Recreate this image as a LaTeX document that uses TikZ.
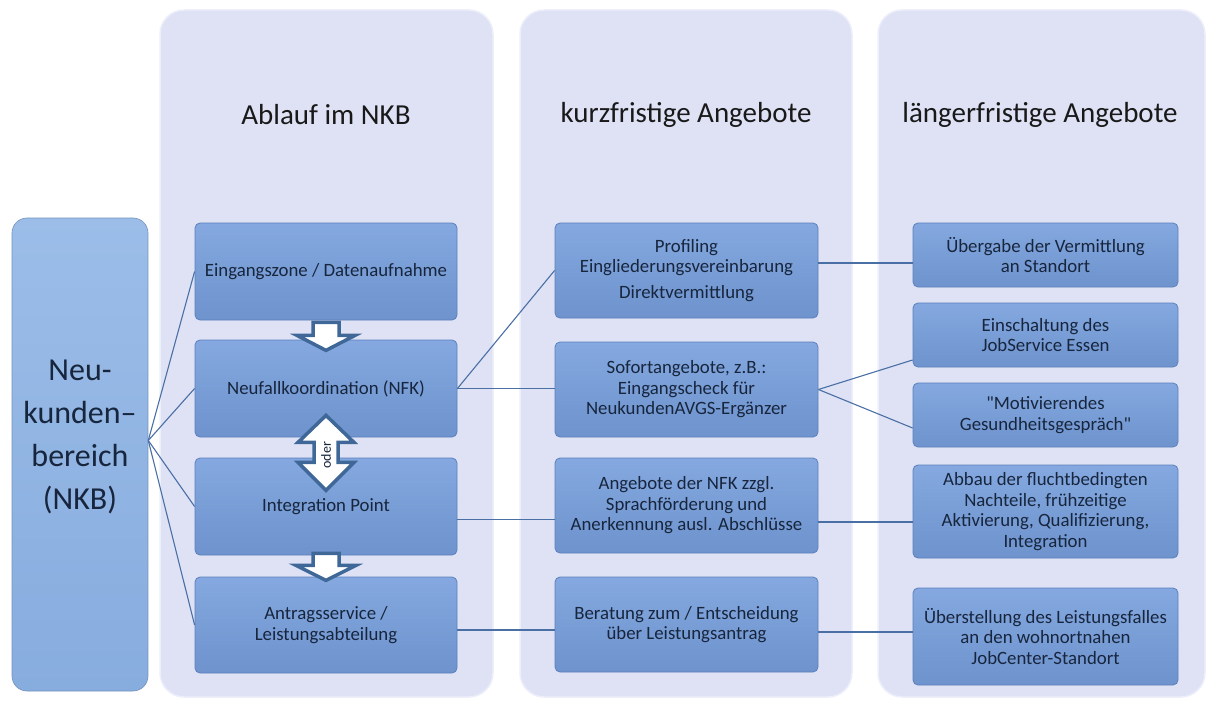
\documentclass[tikz,border=0pt]{standalone}
\usepackage{fontspec}
\setmainfont{Carlito}[Ligatures=TeXOff]
\usetikzlibrary{calc}
\definecolor{panelfill}{HTML}{DFE2F5}
\definecolor{paneledge}{HTML}{EDEFFA}
\definecolor{boxtop}{HTML}{84A8DF}
\definecolor{boxbot}{HTML}{6E93CD}
\definecolor{boxedge}{HTML}{5C80BC}
\definecolor{nkbtop}{HTML}{9BBDE8}
\definecolor{nkbbot}{HTML}{87ACDE}
\definecolor{txtdark}{HTML}{17253D}
\definecolor{linecol}{HTML}{4A6FA5}
\definecolor{arrowcol}{HTML}{3F6899}
\tikzset{
  panel/.style={draw=paneledge, line width=1.5pt, fill=panelfill, rounded corners=24pt},
  stepbox/.style={draw=boxedge, line width=0.8pt, top color=boxtop, bottom color=boxbot,
    rounded corners=5pt, align=center, text=txtdark, inner sep=2pt,
    font=\fontsize{18.8}{20.5}\selectfont},
  header/.style={font=\fontsize{29}{33}\selectfont, text=black!90},
  conn/.style={draw=linecol, line width=1.1pt},
  blockarrow/.style={draw=arrowcol, fill=white, line width=3.5pt, line join=miter},
}
\begin{document}
\begin{tikzpicture}[x=1pt,y=-1pt]
\useasboundingbox (0,0) rectangle (1210,706);
% panels
\node[panel, minimum width=333pt, minimum height=687pt] (p1) at (326.5,353.5) {};
\node[panel, minimum width=332pt, minimum height=687pt] (p2) at (686,353.5) {};
\node[panel, minimum width=327pt, minimum height=687pt] (p3) at (1041.5,353.5) {};
% headers
\node[header] (h1) at (326,115) {Ablauf im NKB};
\node[header] (h2) at (686,115) {kurzfristige Angebote};
\node[header] (h3) at (1040,115) {längerfristige Angebote};
% NKB
\node[draw=nkbbot!85!black, line width=0.6pt, top color=nkbtop, bottom color=nkbbot, rounded corners=15pt,
  minimum width=136pt, minimum height=473pt] (nkb) at (80,454.5) {};
\node[align=center, text=txtdark, font=\fontsize{32}{43}\selectfont] (nkbtext) at (80,437)
  {Neu-\\kunden–\\bereich\\(NKB)};
% column 1
\node[stepbox, minimum width=262pt, minimum height=97pt] (b11) at (326,271.5) {Eingangszone / Datenaufnahme};
\node[stepbox, minimum width=262pt, minimum height=97pt] (b12) at (326,388.5) {Neufallkoordination (NFK)};
\node[stepbox, minimum width=262pt, minimum height=97pt] (b13) at (326,506.5) {Integration Point};
\node[stepbox, minimum width=262pt, minimum height=96pt] (b14) at (326,625) {Antragsservice /\\Leistungsabteilung};
% column 2
\node[stepbox, minimum width=263pt, minimum height=95pt] (b21) at (686.5,270.5) {Profiling\\Eingliederungsvereinbarung\\[5pt]Direktvermittlung};
\node[stepbox, minimum width=263pt, minimum height=95pt] (b22) at (686.5,389.5) {Sofortangebote, z.B.:\\Eingangscheck für\\NeukundenAVGS-Ergänzer};
\node[stepbox, minimum width=263pt, minimum height=95pt] (b23) at (686.5,505.5) {Angebote der NFK zzgl.\\Sprachförderung und\\Anerkennung ausl. Abschlüsse};
\node[stepbox, minimum width=263pt, minimum height=95pt] (b24) at (686.5,624.5) {Beratung zum / Entscheidung\\über Leistungsantrag};
% column 3
\node[stepbox, minimum width=265pt, minimum height=64pt] (b31) at (1045.5,255) {Übergabe der Vermittlung\\an Standort};
\node[stepbox, minimum width=265pt, minimum height=64pt] (b32) at (1045.5,335) {Einschaltung des\\JobService Essen};
\node[stepbox, minimum width=265pt, minimum height=64pt] (b33) at (1045.5,415) {"Motivierendes\\Gesundheitsgespräch"};
\node[stepbox, minimum width=265pt, minimum height=93pt] (b34) at (1045.5,511.5) {Abbau der fluchtbedingten\\Nachteile, frühzeitige\\Aktivierung, Qualifizierung,\\Integration};
\node[stepbox, minimum width=265pt, minimum height=97pt] (b35) at (1045.5,636.5) {Überstellung des Leistungsfalles\\an den wohnortnahen\\JobCenter-Standort};
% connectors NKB -> column 1
\coordinate (nkbout) at ($(nkb.east)+(0,-14)$);
\draw[conn] (nkbout) -- (b11.west);
\draw[conn] (nkbout) -- (b12.west);
\draw[conn] (nkbout) -- (b13.west);
\draw[conn] (nkbout) -- (b14.west);
% column 1 -> column 2
\draw[conn] (b12.east) -- (b21.west);
\draw[conn] (b12.east) -- ($(b22.west)+(0,-1)$);
\draw[conn] ($(b13.east)+(0,13)$) -- ($(b23.west)+(0,14)$);
\draw[conn] ($(b14.east)+(0,5)$) -- ($(b24.west)+(0,5.5)$);
% column 2 -> column 3
\draw[conn] ($(b21.east)+(0,-7.5)$) -- ($(b31.west)+(0,8)$);
\draw[conn] (b22.east) -- ($(b32.west)+(0,25)$);
\draw[conn] (b22.east) -- ($(b33.west)+(0,13)$);
\draw[conn] ($(b23.east)+(0,16.5)$) -- ($(b34.west)+(0,10.5)$);
\draw[conn] ($(b24.east)+(0,7.5)$) -- ($(b35.west)+(0,-4.5)$);
% block arrows
\draw[blockarrow] ($(b11.south)+(-13,2)$) -- ++(26,0) -- ++(0,13) -- ++(16,0) -- ++(-29,15) -- ++(-29,-15) -- ++(16,0) -- cycle;
\draw[blockarrow] ($(b12.south)+(0,-22)$) -- ++(28,27) -- ++(-16,0) -- ++(0,20) -- ++(16,0) -- ++(-28,28) -- ++(-28,-28) -- ++(16,0) -- ++(0,-20) -- ++(-16,0) -- cycle;
\node[rotate=90, font=\fontsize{14}{14}\selectfont, text=txtdark, inner sep=0pt] (oder) at ($(b12.south)+(0,18)$) {oder};
\draw[blockarrow] ($(b13.south)+(-13,-2)$) -- ++(26,0) -- ++(0,12) -- ++(17,0) -- ++(-30,15) -- ++(-30,-15) -- ++(17,0) -- cycle;
\end{tikzpicture}
\end{document}
